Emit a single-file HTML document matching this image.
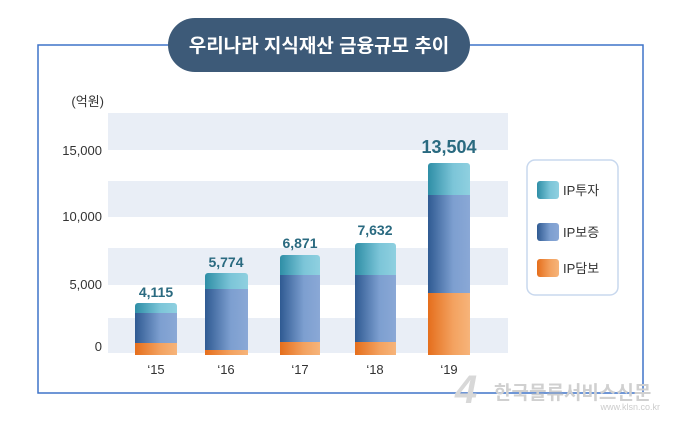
<!DOCTYPE html>
<html><head><meta charset="utf-8"><style>
body{margin:0;background:#fff;}
svg text{font-family:"Liberation Sans","Noto Sans CJK KR",sans-serif;}
</style></head><body>
<svg width="680" height="432" xmlns="http://www.w3.org/2000/svg">
<defs>
<linearGradient id="b" x1="0" x2="1"><stop offset="0" stop-color="#2f5a92"/><stop offset="0.6" stop-color="#7d9fd0"/><stop offset="1" stop-color="#8aa8d6"/></linearGradient>
<linearGradient id="t" x1="0" x2="1"><stop offset="0" stop-color="#2e8ea6"/><stop offset="0.6" stop-color="#7cc5d8"/><stop offset="1" stop-color="#8fd0e0"/></linearGradient>
<linearGradient id="o" x1="0" x2="1"><stop offset="0" stop-color="#e56e1c"/><stop offset="0.6" stop-color="#f3a260"/><stop offset="1" stop-color="#f6b47a"/></linearGradient>
</defs>
<rect x="38" y="45" width="605" height="348" fill="none" stroke="#3f73c8" stroke-width="1.5"/>
<rect x="108" y="113" width="400" height="37" fill="#e9eef6"/>
<rect x="108" y="181" width="400" height="36" fill="#e9eef6"/>
<rect x="108" y="248" width="400" height="37" fill="#e9eef6"/>
<rect x="108" y="318" width="400" height="35" fill="#e9eef6"/>
<rect x="168" y="18" width="302" height="54" rx="27" fill="#3d5a78"/>
<text x="319" y="52" font-size="19" fill="#fff" text-anchor="middle" font-weight="bold">우리나라 지식재산 금융규모 추이</text>
<g font-size="13" fill="#333" text-anchor="end">
<text x="104" y="106">(억원)</text>
<text x="102" y="155">15,000</text>
<text x="102" y="221">10,000</text>
<text x="102" y="289">5,000</text>
<text x="102" y="351">0</text>
</g>
<g font-size="13" fill="#333" text-anchor="middle">
<text x="156" y="374">‘15</text><text x="226" y="374">‘16</text><text x="300" y="374">‘17</text><text x="375" y="374">‘18</text><text x="449" y="374">‘19</text>
</g>
<g>
<!-- bars: x,w, top, blueTop, orangeTop -->
<rect x="135" y="303" width="42" height="52" fill="url(#t)" rx="3"/><rect x="135" y="313" width="42" height="32" fill="url(#b)"/><rect x="135" y="343" width="42" height="12" fill="url(#o)"/>
<rect x="205" y="273" width="43" height="82" fill="url(#t)" rx="3"/><rect x="205" y="289" width="43" height="62" fill="url(#b)"/><rect x="205" y="350" width="43" height="5" fill="url(#o)"/>
<rect x="280" y="255" width="40" height="100" fill="url(#t)" rx="3"/><rect x="280" y="275" width="40" height="68" fill="url(#b)"/><rect x="280" y="342" width="40" height="13" fill="url(#o)"/>
<rect x="355" y="243" width="41" height="112" fill="url(#t)" rx="3"/><rect x="355" y="275" width="41" height="68" fill="url(#b)"/><rect x="355" y="342" width="41" height="13" fill="url(#o)"/>
<rect x="428" y="163" width="42" height="192" fill="url(#t)" rx="3"/><rect x="428" y="195" width="42" height="99" fill="url(#b)"/><rect x="428" y="293" width="42" height="62" fill="url(#o)"/>
</g>
<g font-weight="bold" fill="#2a6a80" text-anchor="middle">
<text x="156" y="297" font-size="14">4,115</text>
<text x="226" y="267" font-size="14">5,774</text>
<text x="300" y="248" font-size="14">6,871</text>
<text x="375" y="235" font-size="14">7,632</text>
<text x="449" y="153" font-size="18">13,504</text>
</g>
<rect x="527" y="160" width="91" height="135" rx="8" fill="#fff" stroke="#c8d8ee" stroke-width="1.5"/>
<rect x="537" y="181" width="22" height="18" rx="3" fill="url(#t)"/>
<rect x="537" y="223" width="22" height="18" rx="3" fill="url(#b)"/>
<rect x="537" y="259" width="22" height="18" rx="3" fill="url(#o)"/>
<g font-size="13" fill="#333"><text x="563" y="195">IP투자</text><text x="563" y="237">IP보증</text><text x="563" y="273">IP담보</text></g>
<text x="455" y="403" font-size="40" font-weight="bold" fill="#d8d8d8" font-style="italic">4</text>
<text x="494" y="399" font-size="19" font-weight="bold" fill="#d0d0d0">한국물류서비스신문</text>
<text x="660" y="410" font-size="9" fill="#ccc" text-anchor="end">www.klsn.co.kr</text>
</svg>
</body></html>
